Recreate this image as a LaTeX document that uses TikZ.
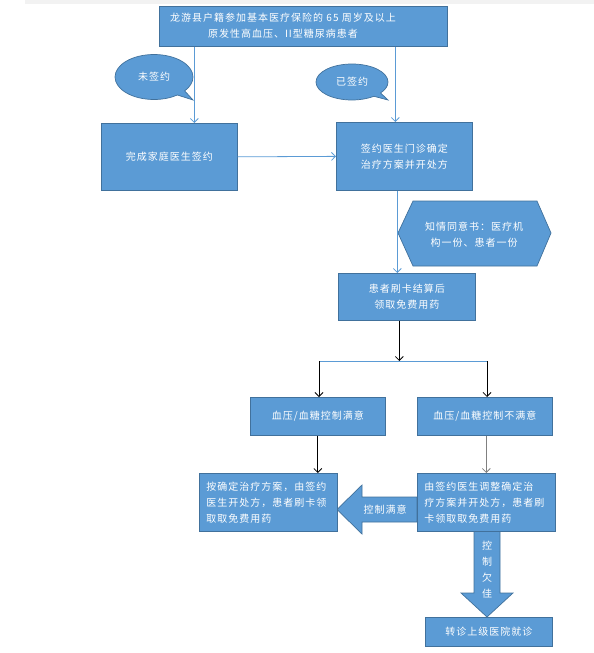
\documentclass[tikz,border=0pt]{standalone}
\usepackage{fontspec}
\setmainfont{Noto Sans CJK SC}[LetterSpace=10]
\usetikzlibrary{arrows.meta,shapes.callouts}
\definecolor{boxfill}{HTML}{5B9BD5}
\definecolor{boxline}{HTML}{41719C}
\definecolor{connblue}{HTML}{5B9BD5}
\newcommand\cnfont{\fontsize{10}{16}\selectfont}
\begin{document}
\begin{tikzpicture}[x=1pt,y=-1pt,
  box/.style={draw=boxline, fill=boxfill, line width=0.7pt, text=white, font=\cnfont, inner sep=0pt, anchor=north west, align=center},
  lbox/.style={box, align=left, inner xsep=7pt},
  conn/.style={draw=connblue, line width=0.8pt, -{Straight Barb[length=4pt,width=8pt]}},
  bconn/.style={draw=black, line width=0.8pt, -{Straight Barb[length=4pt,width=8pt]}},
  txt/.style={text=white, font=\cnfont, align=center, inner sep=0pt},
  call/.style={ellipse callout, draw=boxline, fill=boxfill, line width=0.7pt, text=white, font=\cnfont, inner sep=0pt},
  bigarrow/.style={draw=boxline, fill=boxfill, line width=0.7pt}
]
\path[use as bounding box] (0,0) rectangle (594,653);
\fill[gray!10] (25,0) rectangle (594,4);

% big block arrows and hexagon (drawn first, behind boxes)
\draw[bigarrow] (417,497) -- (362,497) -- (362,485) -- (337,509.5) -- (362,534) -- (362,522) -- (417,522) -- cycle;
\draw[bigarrow] (474,531) -- (500,531) -- (500,593) -- (513,593) -- (487,617) -- (461,593) -- (474,593) -- cycle;
\draw[bigarrow] (398,233) -- (413,201) -- (537,201) -- (551,233) -- (537,266) -- (413,266) -- cycle;

% boxes
\node[box, minimum width=288, minimum height=40] (top) at (159,6) {};
\node[txt] (toptext) at (283,26) {龙游县户籍参加基本医疗保险的 65 周岁及以上\\原发性高血压、II型糖尿病患者};
\node[box, minimum width=136, minimum height=67] (sign) at (101,123) {完成家庭医生签约};
\node[box, minimum width=136, minimum height=68] (clinic) at (336,122) {签约医生门诊确定\\治疗方案并开处方};
\node[box, minimum width=137, minimum height=47] (pay) at (338,273) {患者刷卡结算后\\领取免费用药};
\node[box, minimum width=135, minimum height=38] (ok) at (250,397) {血压/血糖控制满意};
\node[box, minimum width=135, minimum height=38] (nok) at (417,397) {血压/血糖控制不满意};
\node[lbox, text width=124, minimum height=58] (okplan) at (199,473) {按确定治疗方案，由签约\\医生开处方，患者刷卡领\\取取免费用药};
\node[lbox, text width=124, minimum height=58] (adj) at (417,473) {由签约医生调整确定治\\疗方案并开处方，患者刷\\卡领取取免费用药};
\node[box, minimum width=127, minimum height=29] (refer) at (425,617) {转诊上级医院就诊};

% callouts
\node[call, minimum width=78, minimum height=45, callout absolute pointer={(193,100)}] (unsigned) at (154,77) {未签约};
\node[call, minimum width=72, minimum height=36, callout absolute pointer={(388,100)}] (signed) at (352,82) {已签约};

% labels
\node[txt] (consent) at (474,235) {知情同意书：医疗机\\构一份、患者一份};
\node[txt] (oklabel) at (385,510) {控制满意};
\node[txt] (poorlabel) at (487,570) {控\\制\\欠\\佳};

% connectors
\draw[conn] ([xshift=-109pt]top.south) -- ([xshift=25pt]sign.north);
\draw[conn] ([xshift=92pt]top.south) -- ([xshift=-9pt]clinic.north);
\draw[conn] (sign.east) -- (clinic.west);
\draw[conn] ([xshift=-7pt]clinic.south) -- ([xshift=-9.5pt]pay.north);

\coordinate (splitL) at (319,361);
\coordinate (splitR) at (487,361);
\draw[bconn] ([xshift=-7.5pt]pay.south) -- ([xshift=-7.5pt]pay.south |- splitL);
\draw[connblue, line width=0.8pt] (splitL) -- (splitR);
\draw[bconn] (splitL) -- (splitL |- ok.north);
\draw[bconn] (splitR) -- (splitR |- nok.north);
\draw[bconn] (ok.south) -- (ok.south |- okplan.north);
\draw[bconn, draw=gray] ([xshift=1.5pt]nok.south) -- ([xshift=1.5pt]nok.south |- adj.north);
\end{tikzpicture}
\end{document}
